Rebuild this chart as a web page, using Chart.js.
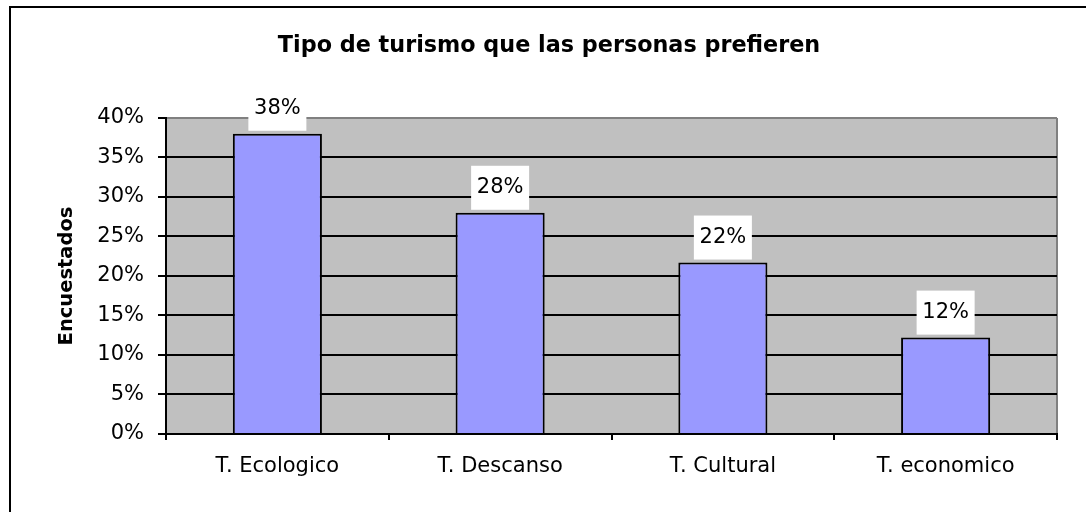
<!DOCTYPE html>
<html>
<head>
<meta charset="utf-8">
<script src="https://cdn.jsdelivr.net/npm/chart.js@4/dist/chart.umd.min.js"></script>
<style>
  html, body { margin: 0; padding: 0; background: #fff; }
  canvas { display: block; }
</style>
</head>
<body>
<canvas id="chart" width="1086" height="512"></canvas>
<script>
const categories = ['T. Ecologico', 'T. Descanso', 'T. Cultural', 'T. economico'];
const shares = [0.38, 0.28, 0.217, 0.122];
const yTicks = [0, 0.05, 0.10, 0.15, 0.20, 0.25, 0.30, 0.35, 0.40];

const FONT = 'DejaVu Sans';

// frame + grey plot background
const backdrop = {
  id: 'backdrop',
  beforeDraw(chart) {
    const { ctx, chartArea: a } = chart;
    ctx.save();
    ctx.fillStyle = '#c0c0c0';
    ctx.fillRect(a.left, a.top, a.right - a.left, a.bottom - a.top);
    ctx.strokeStyle = '#808080';
    ctx.lineWidth = 2;
    ctx.beginPath();
    ctx.moveTo(a.right, a.top);
    ctx.lineTo(a.right, a.bottom);
    ctx.stroke();
    ctx.strokeStyle = '#000';
    ctx.beginPath();
    ctx.moveTo(1086, 7);
    ctx.lineTo(10, 7);
    ctx.lineTo(10, 512);
    ctx.stroke();
    ctx.restore();
  }
};

// white boxed value labels above the bars
const valueLabels = {
  id: 'valueLabels',
  afterDatasetsDraw(chart) {
    const { ctx } = chart;
    const meta = chart.getDatasetMeta(0);
    ctx.save();
    ctx.font = '21px "' + FONT + '"';
    ctx.textAlign = 'center';
    ctx.textBaseline = 'middle';
    meta.data.forEach((bar, i) => {
      const w = 58, h = 44;
      const bottom = bar.y - 3;
      ctx.fillStyle = '#fff';
      ctx.fillRect(bar.x - w / 2, bottom - h, w, h);
      ctx.fillStyle = '#000';
      ctx.fillText(Math.round(shares[i] * 100) + '%', bar.x, bottom - h / 2);
    });
    ctx.restore();
  }
};

new Chart(document.getElementById('chart'), {
  type: 'bar',
  data: {
    labels: categories,
    datasets: [{
      data: shares,
      backgroundColor: '#9999ff',
      borderColor: '#000',
      borderWidth: 2,
      categoryPercentage: 1,
      barPercentage: 0.4
    }]
  },
  options: {
    responsive: false,
    animation: false,
    layout: { padding: { left: 41, right: 29, top: 0, bottom: 0 } },
    plugins: {
      legend: { display: false },
      tooltip: { enabled: false },
      title: {
        display: true,
        text: 'Tipo de turismo que las personas prefieren',
        color: '#000',
        font: { family: FONT, size: 22.3, weight: 'bold', lineHeight: 1.2 },
        padding: { top: 33, bottom: 58.2 }
      }
    },
    scales: {
      x: {
        afterFit(scale) { scale.height = 78; },
        grid: {
          offset: true,
          drawOnChartArea: false,
          drawTicks: true,
          tickLength: 6,
          color: '#000',
          lineWidth: 2
        },
        border: { color: '#000', width: 2 },
        ticks: {
          color: '#000',
          padding: 14,
          font: { family: FONT, size: 21 }
        }
      },
      y: {
        min: 0,
        max: 0.4,
        afterFit(scale) { scale.width = 125; },
        afterBuildTicks(scale) { scale.ticks = yTicks.map(v => ({ value: v })); },
        grid: {
          color: ctx => (ctx.tick && ctx.tick.value >= 0.4 ? '#808080' : '#000'),
          tickColor: '#000',
          lineWidth: 2,
          tickLength: 8
        },
        border: { color: '#000', width: 2 },
        ticks: {
          color: '#000',
          padding: 14,
          font: { family: FONT, size: 21 },
          callback: v => Math.round(v * 100) + '%'
        },
        title: {
          display: true,
          text: 'Encuestados',
          color: '#000',
          font: { family: FONT, size: 19.5, weight: 'bold', lineHeight: 1.2 },
          padding: { top: 14, bottom: 0 }
        }
      }
    }
  },
  plugins: [backdrop, valueLabels]
});
</script>
</body>
</html>
